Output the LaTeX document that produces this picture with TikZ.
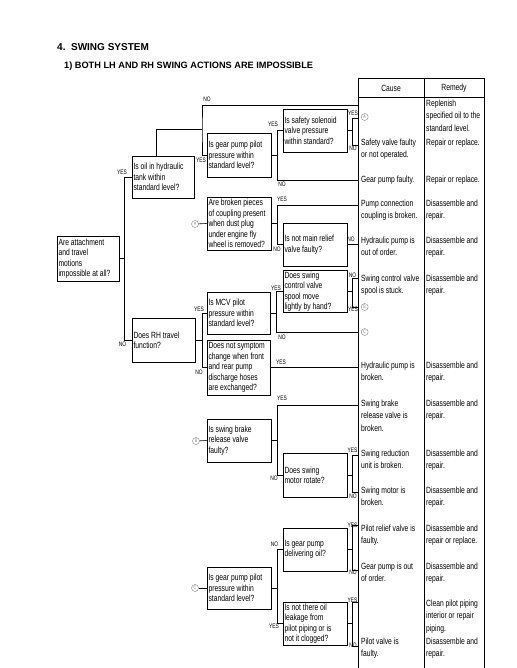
\documentclass[tikz,border=0pt]{standalone}
\usepackage{fontspec}
\setmainfont{Liberation Sans}
\newfontfamily\narrowsans{Liberation Sans}[FakeStretch=0.75]
\hyphenpenalty=10000
\usetikzlibrary{positioning}
\tikzset{
  qbox/.style={draw,line width=0.8pt,text width=61pt,inner xsep=1.5pt,inner ysep=1pt,align=flush left,font=\narrowsans\fontsize{9}{10.4}\selectfont},
  ln/.style={line width=0.6pt},
  tbl/.style={line width=0.8pt},
  yn/.style={font=\narrowsans\fontsize{6.5}{7}\selectfont,inner sep=0pt},
  cell/.style={anchor=north west,align=left,inner sep=0pt,font=\narrowsans\fontsize{9}{12.5}\selectfont},
  circ/.style={circle,draw=black!50,line width=0.4pt,text=black!50,inner sep=0pt,minimum size=7pt,font=\narrowsans\fontsize{5}{5}\selectfont},
}
\begin{document}
\begin{tikzpicture}[x=1pt,y=-1pt]
\useasboundingbox (0,0) rectangle (516,668);
\node[anchor=base west,inner sep=0pt,font=\bfseries\fontsize{10}{12}\selectfont] (ttl) at (57,51) {4.\ \ SWING SYSTEM};
\node[anchor=base west,inner sep=0pt,font=\bfseries\fontsize{9.2}{11}\selectfont] (sub) at (64,68.5) {1) BOTH LH AND RH SWING ACTIONS ARE IMPOSSIBLE};

% table
\draw[tbl] (358,78) rectangle (484,97);
\draw[tbl] (358,97) -- (358,668) (424,78) -- (424,668) (484,97) -- (484,668);
\node[cell,anchor=center] (hc) at (391,88) {Cause};
\node[cell,anchor=center] (hr) at (454,88) {Remedy};

% questions
\node[qbox,text width=59pt,minimum height=45pt] (main) at (88,258.5) {Are attachment\\and travel\\motions\\impossible at all?};
\node[qbox,text width=59pt,minimum height=42pt] (tank) at (163,177) {Is oil in hydraulic\\tank within\\standard level?};
\node[qbox,minimum height=44pt] (gear1) at (239,155) {Is gear pump pilot\\pressure within\\standard level?};
\node[qbox,minimum height=43pt] (safety) at (315,130.5) {Is safety solenoid\\valve pressure\\within standard?};
\node[qbox,minimum height=53pt] (coupling) at (239,223.5) {Are broken pieces\\of coupling present\\when dust plug\\under engine fly\\wheel is removed?};
\node[qbox,minimum height=43pt] (relief) at (315,244.5) {Is not main relief\\valve faulty?};
\node[qbox,text width=60pt,minimum height=44pt] (rh) at (163.5,340) {Does RH travel\\function?};
\node[qbox,text width=60pt,minimum height=42pt] (mcv) at (238.5,313) {Is MCV pilot\\pressure within\\standard level?};
\node[qbox,minimum height=41pt] (spool) at (315,291.5) {Does swing\\control valve\\spool move\\lightly by hand?};
\node[qbox,text width=60pt,minimum height=55pt] (symptom) at (238.5,367.5) {Does not symptom\\change when front\\and rear pump\\discharge hoses\\are exchanged?};
\node[qbox,minimum height=43pt] (brake) at (239,440.5) {Is swing brake\\release valve\\faulty?};
\node[qbox,minimum height=44pt] (motor) at (315,475) {Does swing\\motor rotate?};
\node[qbox,minimum height=42pt] (gear2) at (239,588) {Is gear pump pilot\\pressure within\\standard level?};
\node[qbox,minimum height=43pt] (deliver) at (315,549.5) {Is gear pump\\delivering oil?};
\node[qbox,minimum height=43pt] (leak) at (315,623.5) {Is not there oil\\leakage from\\pilot piping or is\\not it clogged?};

% jump marks
\node[circ] (cA) at (195,224) {A};
\node[circ] (cB) at (196,441) {B};
\node[circ] (cC) at (195,588) {C};

% ends on the table
\coordinate (tRep) at (358,105);   \coordinate (tA) at (358,118);
\coordinate (tSafe) at (358,145);  \coordinate (tGear) at (358,180);
\coordinate (tCoup) at (358,205);  \coordinate (tHyd) at (358,244.5);
\coordinate (tSpool) at (358,278); \coordinate (tB) at (358,307);
\coordinate (tC) at (358,332);     \coordinate (tHyd2) at (358,367.5);
\coordinate (tBrake) at (358,405); \coordinate (tRed) at (358,455);
\coordinate (tMot) at (358,492);   \coordinate (tPil) at (358,525);
\coordinate (tGP) at (358,570);    \coordinate (tClean) at (358,602);
\coordinate (tPV) at (358,646);
\coordinate (j2) at (202,129);

% connectors
\draw[ln] (main.east) -- ++(5,0) coordinate (j1) |- (tank.west); \draw[ln] (j1) |- (rh.west);
\draw[ln] ([xshift=-7pt]tank.north) |- (j2); \draw[ln] (tRep) -| (j2) |- (gear1.west);
\draw[ln] (gear1.east) -- ++(6,0) coordinate (j3); \draw[ln] (safety.west) -| (j3) |- (tGear);
\draw[ln] (safety.east) -- ++(5,0) coordinate (j4); \draw[ln] (tA) -| (j4) |- (tSafe);
\draw[ln] (cA) -- (coupling.west);
\draw[ln] (coupling.east) -- ++(6,0) coordinate (j5); \draw[ln] (tCoup) -| (j5) |- (relief.west);
\draw[ln] (relief.east) -- (tHyd);
\draw[ln] (rh.east) -- ++(7,0) coordinate (j6); \draw[ln] (mcv.west) -| (j6) |- (symptom.west);
\draw[ln] (mcv.east) -- ++(6,0) coordinate (j7); \draw[ln] (spool.west) -| (j7) |- (tC);
\draw[ln] (spool.east) -- ++(5,0) coordinate (j8); \draw[ln] (tSpool) -| (j8) |- (tB);
\draw[ln] (symptom.east) -- (tHyd2);
\draw[ln] (cB) -- (brake.west);
\draw[ln] (brake.east) -- ++(6,0) coordinate (j9); \draw[ln] (tBrake) -| (j9) |- (motor.west);
\draw[ln] (motor.east) -- ++(5,0) coordinate (j10); \draw[ln] (tRed) -| (j10) |- (tMot);
\draw[ln] (cC) -- (gear2.west);
\draw[ln] (gear2.east) -- ++(6,0) coordinate (j11); \draw[ln] (deliver.west) -| (j11) |- (leak.west);
\draw[ln] (deliver.east) -- ++(5,0) coordinate (j12); \draw[ln] (tPil) -| (j12) |- (tGP);
\draw[ln] (leak.east) -- ++(5,0) coordinate (j13); \draw[ln] (tClean) -| (j13) |- (tPV);

% YES / NO
\node[yn] (l1) at (207,99) {NO};      \node[yn] (l2) at (201,160) {YES};
\node[yn] (l3) at (122,172) {YES};    \node[yn] (l4) at (122.5,344) {NO};
\node[yn] (l5) at (273,124.5) {YES};  \node[yn] (l6) at (282,184.5) {NO};
\node[yn] (l7) at (353,113) {YES};    \node[yn] (l8) at (353,148) {NO};
\node[yn] (l9) at (282,199.5) {YES};  \node[yn] (l10) at (277,249) {NO};
\node[yn] (l11) at (351,239.5) {NO};  \node[yn] (l12) at (199,309.5) {YES};
\node[yn] (l13) at (199,372) {NO};    \node[yn] (l14) at (276,288) {YES};
\node[yn] (l15) at (282,337) {NO};    \node[yn] (l16) at (352.5,275.5) {NO};
\node[yn] (l17) at (353,309.5) {YES}; \node[yn] (l18) at (281,362.5) {YES};
\node[yn] (l19) at (282,398) {YES};   \node[yn] (l20) at (274,478) {NO};
\node[yn] (l21) at (352.5,450.5) {YES}; \node[yn] (l22) at (353,496) {NO};
\node[yn] (l23) at (274.5,544.5) {NO}; \node[yn] (l24) at (274,626.5) {YES};
\node[yn] (l25) at (352.5,525.5) {YES}; \node[yn] (l26) at (353,572) {NO};
\node[yn] (l27) at (352.5,600) {YES}; \node[yn] (l28) at (353,645.5) {NO};

% causes
\node[circ,anchor=west] (c1) at (361,117) {A};
\node[cell] (c2) at (361,138.4) {Safety valve faulty\\or not operated.};
\node[cell] (c3) at (361,175.4) {Gear pump faulty.};
\node[cell] (c4) at (361,199.4) {Pump connection\\coupling is broken.};
\node[cell] (c5) at (361,236.4) {Hydraulic pump is\\out of order.};
\node[cell] (c6) at (361,274.4) {Swing control valve\\spool is stuck.};
\node[circ,anchor=west] (c7) at (361,307) {B};
\node[circ,anchor=west] (c8) at (361,332) {C};
\node[cell] (c9) at (361,361.4) {Hydraulic pump is\\broken.};
\node[cell] (c10) at (361,399.4) {Swing brake\\release valve is\\broken.};
\node[cell] (c11) at (361,449.4) {Swing reduction\\unit is broken.};
\node[cell] (c12) at (361,486.4) {Swing motor is\\broken.};
\node[cell] (c13) at (361,524.4) {Pilot relief valve is\\faulty.};
\node[cell] (c14) at (361,562.4) {Gear pump is out\\of order.};
\node[cell] (c15) at (361,637.4) {Pilot valve is\\faulty.};

% remedies
\node[cell] (r1) at (426,99.4) {Replenish\\specified oil to the\\standard level.};
\node[cell] (r2) at (426,138.4) {Repair or replace.};
\node[cell] (r3) at (426,175.4) {Repair or replace.};
\foreach \y/\n in {199.4/r4,236.4/r5,274.4/r6,361.4/r7,399.4/r8,449.4/r9,486.4/r10,562.4/r12,637.4/r14}
  \node[cell] (\n) at (426,\y) {Disassemble and\\repair.};
\node[cell] (r11) at (426,524.4) {Disassemble and\\repair or replace.};
\node[cell] (r13) at (426,599.4) {Clean pilot piping\\interior or repair\\piping.};
\end{tikzpicture}
\end{document}
